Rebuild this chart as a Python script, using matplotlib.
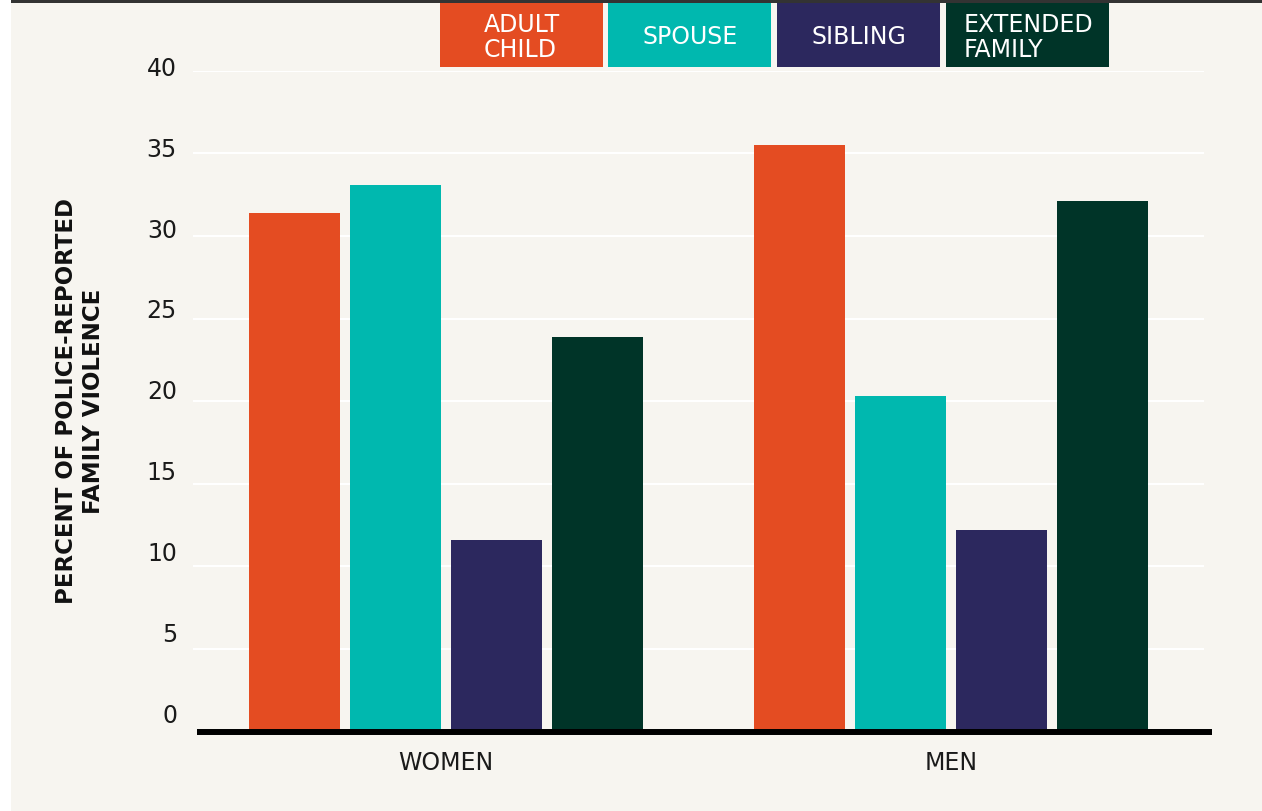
import matplotlib.pyplot as plt
from matplotlib.patches import Rectangle
from matplotlib.transforms import blended_transform_factory

# percent of police-reported family violence, by relationship of accused
groups = ['WOMEN', 'MEN']
relations = ['ADULT\nCHILD', 'SPOUSE', 'SIBLING', 'EXTENDED\nFAMILY']
adult_child = [31.4, 35.5]
spouse = [33.1, 20.3]
sibling = [11.6, 12.2]
extended = [23.9, 32.1]
yticks = [0, 5, 10, 15, 20, 25, 30, 35, 40]

colors = ['#E44C22', '#00B8AF', '#2C285E', '#003428']
BG = '#F7F5F0'
W, H = 1262, 812

fig = plt.figure(figsize=(W / 100, H / 100), dpi=100, facecolor=BG)
plt.rcParams['font.family'] = ['DejaVu Sans']

# white strip on the left and dark rule along the top
fig.patches.append(Rectangle((0, 0), 11 / W, 1, transform=fig.transFigure,
                             facecolor='white', edgecolor='none', zorder=0))
fig.patches.append(Rectangle((11 / W, 1 - 3.5 / H), 1, 3.5 / H, transform=fig.transFigure,
                             facecolor='#333333', edgecolor='none', zorder=5))

left, right = 193, 193 + 2.02 * 505.5
top, bottom = 71.7, 732.5
ax = fig.add_axes([left / W, 1 - bottom / H, (right - left) / W, (bottom - top) / H])
ax.set_facecolor(BG)
ax.set_xlim(-0.5, 1.52)
ax.set_ylim(0, 40)
for s in ax.spines.values():
    s.set_visible(False)

# grid
ax.hlines(yticks[1:], -0.5, 1.5, colors='white', linewidth=1.5, zorder=1)

series = [adult_child, spouse, sibling, extended]
xs = range(len(groups))
for i, (vals, c) in enumerate(zip(series, colors)):
    ax.bar([x + (i - 1.5) * 0.2 for x in xs], vals, width=0.18, color=c, zorder=2)

# baseline
ax.plot([-0.4916, 1.516], [0, 0], color='black', linewidth=4.3,
        solid_capstyle='butt', clip_on=False, zorder=3)

ax.set_yticks([])
ax.set_xticks(list(xs))
ax.set_xticklabels(groups, fontsize=17, color='#1a1a1a')
ax.tick_params(axis='x', length=0, pad=13)

# y tick labels sit slightly above their gridlines
tr = blended_transform_factory(fig.transFigure, ax.transData)
for v in yticks:
    ax.text(177 / W, v * 0.979 + 1.017, str(v), transform=tr, ha='right', va='center',
            fontsize=17, color='#1a1a1a')

fig.text(80 / W, 1 - 401 / H, 'PERCENT OF POLICE-REPORTED\nFAMILY VIOLENCE',
         rotation=90, ha='center', va='center', fontsize=16.5, fontweight='bold',
         linespacing=1.2, color='#111111')

# legend boxes along the top
box_left = [440, 608, 777, 946]
for bx, lab, c in zip(box_left, relations, colors):
    fig.patches.append(Rectangle((bx / W, 1 - 68 / H), 163 / W, 64 / H,
                                 transform=fig.transFigure, facecolor=c,
                                 edgecolor='none', zorder=4))
    fig.text((bx + 82) / W, 1 - 37.5 / H, lab, ha='center', va='center',
             multialignment='left', fontsize=17, color='white', linespacing=1.1,
             zorder=6)

fig.savefig('out.png', dpi=100, facecolor=BG)
